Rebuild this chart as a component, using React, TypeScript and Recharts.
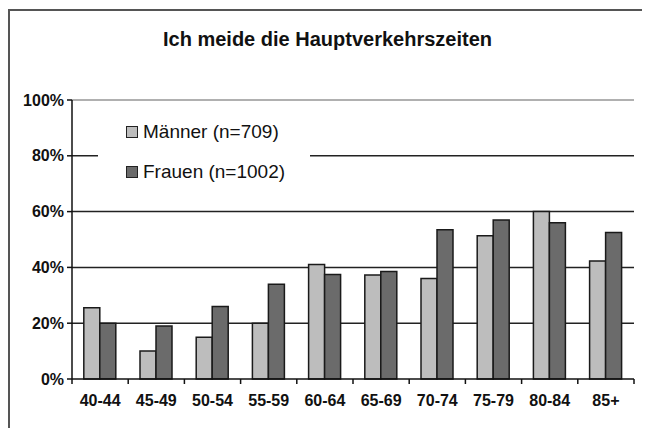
import React from "react";
import {
  BarChart,
  Bar,
  XAxis,
  YAxis,
  CartesianGrid,
  Legend,
  ReferenceLine,
} from "recharts";

const title = "Ich meide die Hauptverkehrszeiten";
const categories = ["40-44", "45-49", "50-54", "55-59", "60-64", "65-69", "70-74", "75-79", "80-84", "85+"];
const maenner = [25.5, 10, 15, 20, 41, 37.3, 36, 51.3, 60, 42.3];
const frauen = [20, 19, 26, 34, 37.5, 38.5, 53.5, 57, 56, 52.5];
const seriesNames = ["Männer (n=709)", "Frauen (n=1002)"];
const seriesColors = ["#bdbdbd", "#6b6b6b"];
const yTicks = [0, 20, 40, 60, 80, 100];
const gridValues = [20, 40, 60, 80];
const yMax = 100;

const data = categories.map((c, i) => ({ cat: c, m: maenner[i], f: frauen[i] }));

const FONT = "'Liberation Sans', Arial, sans-serif";

const XTick = (props: any) => {
  const { x, y, payload, index } = props;
  const half = payload && typeof payload.offset === "number" && payload.offset > 0 ? payload.offset : 28.1;
  const axisY = y - 16;
  const isLast = index === categories.length - 1;
  return (
    <g>
      <line x1={x - half} x2={x - half} y1={axisY} y2={axisY + 5} stroke="#111" strokeWidth={1.5} />
      {isLast && <line x1={x + half} x2={x + half} y1={axisY} y2={axisY + 5} stroke="#111" strokeWidth={1.5} />}
      <text x={x} y={y} dy="0.71em" textAnchor="middle" fill="#111" fontSize={16} fontWeight="bold" fontFamily={FONT}>
        {payload.value}
      </text>
    </g>
  );
};

const LegendContent = () => (
  <div style={{ width: 212, height: 90, background: "#fff", position: "relative", fontFamily: FONT }}>
    {seriesNames.map((n, i) => (
      <div
        key={n}
        style={{
          position: "absolute",
          left: 28,
          top: 24 + i * 40 - 12,
          height: 24,
          display: "flex",
          alignItems: "center",
          fontSize: 19,
          color: "#111",
          whiteSpace: "nowrap",
        }}
      >
        <span
          style={{
            display: "inline-block",
            width: 10,
            height: 10,
            background: seriesColors[i],
            border: "1.5px solid #222",
            marginRight: 5,
          }}
        />
        {n}
      </div>
    ))}
  </div>
);

export default function App() {
  return (
    <div style={{ position: "relative", width: 642, height: 420, overflow: "hidden", background: "#fff" }}>
      <div
        style={{
          position: "absolute",
          left: 0,
          top: 1,
          width: 700,
          height: 500,
          borderTop: "2px solid #555",
          borderLeft: "2px solid #555",
        }}
      />
      <div
        style={{
          position: "absolute",
          left: 319.5 - 200,
          width: 400,
          top: 21,
          textAlign: "center",
          fontFamily: FONT,
          fontWeight: "bold",
          fontSize: 20,
          lineHeight: "20px",
          color: "#111",
          whiteSpace: "nowrap",
        }}
      >
        {title}
      </div>
      <div style={{ position: "absolute", left: 0, top: 0 }}>
        <BarChart
          width={642}
          height={420}
          data={data}
          margin={{ top: 92, right: 16, bottom: 29, left: 8 }}
          barCategoryGap="21%"
          barGap={0}
        >
          <CartesianGrid
            vertical={false}
            horizontalValues={gridValues}
            stroke="#222"
            strokeWidth={1.5}
          />
          <ReferenceLine y={yMax} stroke="#b0b0b0" strokeWidth={2} />
          <YAxis
            yAxisId="right"
            orientation="right"
            width={0}
            domain={[0, yMax]}
            tick={false}
            tickLine={false}
            axisLine={{ stroke: "#b0b0b0", strokeWidth: 2 }}
          />
          <XAxis
            dataKey="cat"
            height={20}
            tickSize={5}
            tickMargin={11}
            tickLine={false}
            axisLine={{ stroke: "#111", strokeWidth: 1.5 }}
            tick={<XTick />}
            interval={0}
          />
          <YAxis
            width={56}
            domain={[0, yMax]}
            ticks={yTicks}
            tickFormatter={(v: number) => `${v}%`}
            tickSize={5}
            tickMargin={3}
            axisLine={{ stroke: "#111", strokeWidth: 1.5 }}
            tickLine={{ stroke: "#111", strokeWidth: 1.5 }}
            tick={{ fill: "#111", fontSize: 16, fontWeight: "bold", fontFamily: FONT }}
            interval={0}
          />
          <Legend
            layout="vertical"
            align="center"
            verticalAlign="middle"
            content={<LegendContent />}
            wrapperStyle={{ position: "absolute", left: 90, top: 100, width: 212, height: 90 }}
          />
          <Bar dataKey="m" name={seriesNames[0]} fill={seriesColors[0]} stroke="#1a1a1a" strokeWidth={1.5} isAnimationActive={false} />
          <Bar dataKey="f" name={seriesNames[1]} fill={seriesColors[1]} stroke="#1a1a1a" strokeWidth={1.5} isAnimationActive={false} />
        </BarChart>
      </div>
    </div>
  );
}
